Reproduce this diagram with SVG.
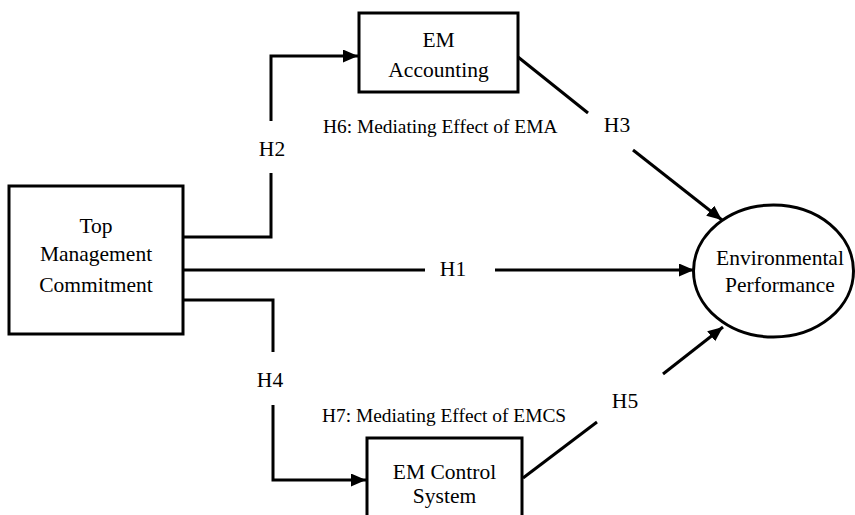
<svg xmlns="http://www.w3.org/2000/svg" width="855" height="515" viewBox="0 0 855 515">
<style>
.box{fill:#fff;stroke:#000;stroke-width:3}
.t{font-family:'Liberation Serif','Tinos','Times New Roman','DejaVu Serif',serif;font-size:21.5px;fill:#000;text-anchor:middle}
.s{font-family:'Liberation Serif','Tinos','Times New Roman','DejaVu Serif',serif;font-size:19.4px;fill:#000}
.c{fill:none;stroke:#000;stroke-width:3}
</style>
<defs>
<marker id="ah" markerUnits="userSpaceOnUse" markerWidth="16" markerHeight="14" refX="15" refY="6.5" orient="auto">
<path d="M0,0 L15,6.5 L0,13 z" fill="#000"/>
</marker>
</defs>
<rect width="855" height="515" fill="#fff"/>
<g id="connectors">
<path class="c" d="M183,237 H271 V173"/>
<path class="c" d="M271,121 V56 H358" marker-end="url(#ah)"/>
<path class="c" d="M183,270 H425"/>
<path class="c" d="M495,270 H694" marker-end="url(#ah)"/>
<path class="c" d="M180,300 H273 V352"/>
<path class="c" d="M273,405 V480 H366" marker-end="url(#ah)"/>
<path class="c" d="M518,57 L588,113"/>
<path class="c" d="M633,150 L722,220" marker-end="url(#ah)"/>
<path class="c" d="M523,478 L597,422"/>
<path class="c" d="M663,374 L723,327" marker-end="url(#ah)"/>
<text class="t" x="272" y="156">H2</text>
<text class="t" x="453" y="276">H1</text>
<text class="t" x="270" y="387">H4</text>
<text class="t" x="617" y="132">H3</text>
<text class="t" x="625" y="408">H5</text>
<text class="s" x="323" y="133">H6: Mediating Effect of EMA</text>
<text class="s" x="322" y="422">H7: Mediating Effect of EMCS</text>
</g>
<g id="top-management">
<rect class="box" x="9" y="186" width="174" height="148"/>
<text class="t" x="96" y="233">Top</text>
<text class="t" x="96" y="261">Management</text>
<text class="t" x="96" y="292">Commitment</text>
</g>
<g id="em-accounting">
<rect class="box" x="359" y="13" width="159" height="79"/>
<text class="t" x="438.5" y="47">EM</text>
<text class="t" x="438.5" y="77">Accounting</text>
</g>
<g id="em-control">
<rect class="box" x="367" y="438" width="155" height="90"/>
<text class="t" x="444.5" y="479">EM Control</text>
<text class="t" x="444.5" y="503">System</text>
</g>
<g id="env-performance">
<ellipse cx="773.5" cy="271" rx="80" ry="66" fill="#fff" stroke="#000" stroke-width="3"/>
<text class="t" x="780" y="265">Environmental</text>
<text class="t" x="780" y="292">Performance</text>
</g>
</svg>
